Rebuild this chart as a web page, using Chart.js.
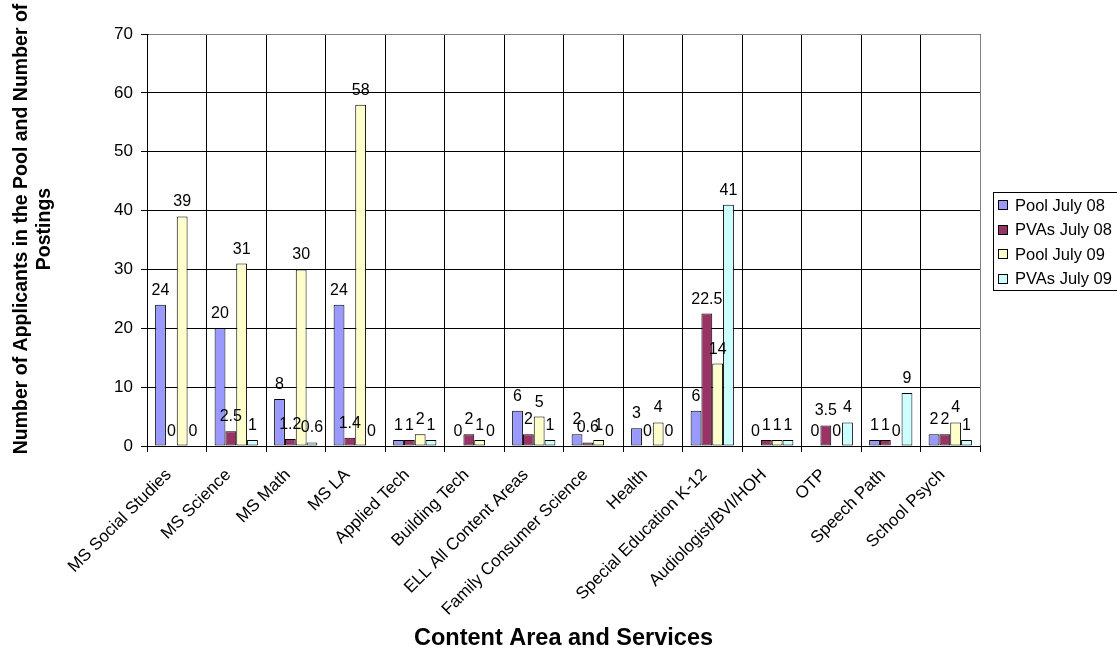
<!DOCTYPE html>
<html>
<head>
<meta charset="utf-8">
<script src="https://cdn.jsdelivr.net/npm/chart.js@4/dist/chart.umd.min.js"></script>
<style>
  html, body { margin: 0; padding: 0; background: #ffffff; }
  #wrap { width: 1117px; height: 651px; position: relative; }
</style>
</head>
<body>
<div id="wrap"><canvas id="chart" width="1117" height="651"></canvas></div>
<script>
const categories = ['MS Social Studies', 'MS Science', 'MS Math', 'MS LA', 'Applied Tech', 'Building Tech',
  'ELL All Content Areas', 'Family Consumer Science', 'Health', 'Special Education K-12',
  'Audiologist/BVI/HOH', 'OTP', 'Speech Path', 'School Psych'];
const seriesNames = ['Pool July 08', 'PVAs July 08', 'Pool July 09', 'PVAs July 09'];
const poolJuly08 = [24, 20, 8, 24, 1, 0, 6, 2, 3, 6, 0, 0, 1, 2];
const pvasJuly08 = [0, 2.5, 1.2, 1.4, 1, 2, 2, 0.6, 0, 22.5, 1, 3.5, 1, 2];
const poolJuly09 = [39, 31, 30, 58, 2, 1, 5, 1, 4, 14, 1, 0, 0, 4];
const pvasJuly09 = [0, 1, 0.6, 0, 1, 0, 1, 0, 0, 41, 1, 4, 9, 1];
const yTicks = [0, 10, 20, 30, 40, 50, 60, 70];
const yTitle = ['Number of Applicants in the Pool and Number of', 'Postings'];
const xTitle = 'Content Area and Services';

const FONT = '"Liberation Sans", Arial, sans-serif';
const colors = ['#9999FF', '#993366', '#FFFFCC', '#CCFFFF'];
const seriesData = [poolJuly08, pvasJuly08, poolJuly09, pvasJuly09];

// value labels above each bar
const valueLabels = {
  id: 'valueLabels',
  afterDatasetsDraw(chart) {
    const ctx = chart.ctx;
    ctx.save();
    ctx.font = '16px ' + FONT;
    ctx.fillStyle = '#000';
    ctx.textAlign = 'center';
    ctx.textBaseline = 'alphabetic';
    chart.data.datasets.forEach((ds, di) => {
      const meta = chart.getDatasetMeta(di);
      meta.data.forEach((bar, i) => {
        ctx.fillText(String(ds.data[i]), bar.x, bar.y - 10);
      });
    });
    ctx.restore();
  }
};

// grey top/right frame, axis titles and boxed legend
const frame = {
  id: 'frame',
  afterDraw(chart) {
    const ctx = chart.ctx;
    const a = chart.chartArea;
    const L = Math.round(a.left) + 0.5, R = Math.round(a.right) + 0.5;
    const T = Math.round(a.top) + 0.5, B = Math.round(a.bottom) + 0.5;
    ctx.save();
    ctx.strokeStyle = '#808080';
    ctx.lineWidth = 1;
    ctx.beginPath();
    ctx.moveTo(L + 1, T); ctx.lineTo(R, T); ctx.lineTo(R, B - 1);
    ctx.stroke();

    // axis titles
    ctx.fillStyle = '#000';
    ctx.font = 'bold 23.5px ' + FONT;
    ctx.textAlign = 'center';
    ctx.textBaseline = 'middle';
    ctx.fillText(xTitle, (a.left + a.right) / 2, 639);

    ctx.save();
    ctx.translate(0, 229);
    ctx.rotate(-Math.PI / 2);
    ctx.font = 'bold 19.5px ' + FONT;
    ctx.fillText(yTitle[0], 0, 22);
    ctx.fillText(yTitle[1], 0, 45);
    ctx.restore();

    // legend
    const lx = 993.5, ly = 192.5, lw = 140, lh = 98;
    ctx.strokeStyle = '#000';
    ctx.strokeRect(lx, ly, lw, lh);
    ctx.font = '16.5px ' + FONT;
    ctx.textAlign = 'left';
    ctx.textBaseline = 'middle';
    chart.data.datasets.forEach((ds, i) => {
      const cy = 205 + i * 24.5;
      ctx.fillStyle = ds.backgroundColor;
      ctx.fillRect(998, Math.round(cy - 5), 10, 10);
      ctx.strokeStyle = '#000';
      ctx.strokeRect(998.5, Math.round(cy - 5) + 0.5, 9, 9);
      ctx.fillStyle = '#000';
      ctx.fillText(ds.label, 1015, cy + 1);
    });
    ctx.restore();
  }
};

new Chart(document.getElementById('chart'), {
  type: 'bar',
  data: {
    labels: categories,
    datasets: seriesNames.map((name, i) => ({
      label: name,
      data: seriesData[i],
      backgroundColor: colors[i],
      borderColor: '#000000',
      borderWidth: 1,
      borderSkipped: false,
      categoryPercentage: 4 / 5.5,
      barPercentage: 1
    }))
  },
  options: {
    responsive: false,
    devicePixelRatio: 1,
    animation: false,
    layout: { padding: { left: 67, right: 137, top: 34, bottom: 0 } },
    plugins: { legend: { display: false }, tooltip: { enabled: false } },
    scales: {
      x: {
        grid: { color: '#000', lineWidth: 1, tickLength: 6, offset: true },
        border: { display: true, color: '#000' },
        ticks: {
          autoSkip: false, maxRotation: 45, minRotation: 45,
          color: '#000', padding: 13, labelOffset: -8, font: { family: FONT, size: 17 }
        },
        afterFit(scale) { scale.height = 205; }
      },
      y: {
        min: 0, max: 70,
        afterBuildTicks(scale) { scale.ticks = yTicks.map(v => ({ value: v })); },
        grid: { color: '#000', lineWidth: 1, tickLength: 6 },
        border: { display: true, color: '#000' },
        ticks: { color: '#000', padding: 8, font: { family: FONT, size: 17 } },
        afterFit(scale) { scale.width = 80; }
      }
    }
  },
  plugins: [valueLabels, frame]
});
</script>
</body>
</html>
